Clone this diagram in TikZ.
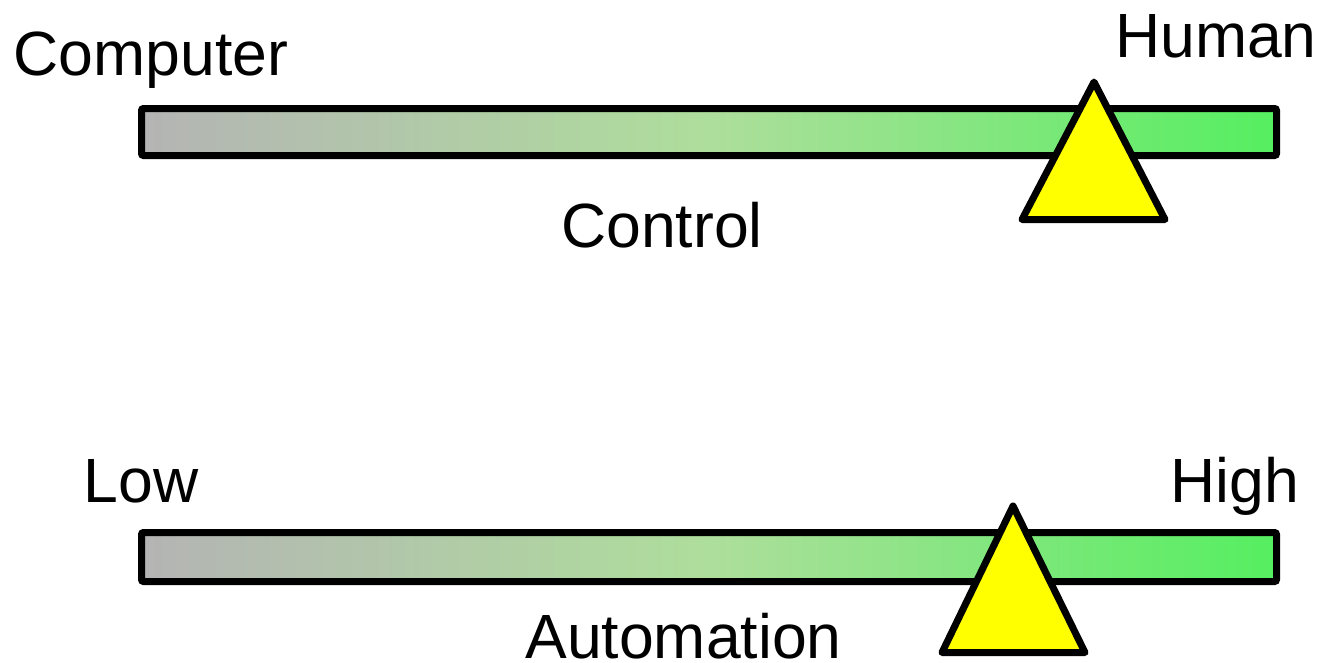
\documentclass[tikz,border=0pt]{standalone}
\usepackage{fontspec}
\setmainfont{Liberation Sans}
\definecolor{barleft}{HTML}{B4B4B4}
\definecolor{barmid}{HTML}{AEDE9C}
\definecolor{barright}{HTML}{55EF60}
\definecolor{tri}{HTML}{FFFF00}
\begin{document}
\begin{tikzpicture}[x=1pt,y=-1pt,
  fulcrum/.style={draw=black,fill=tri,line width=7pt,line join=round},
  lbl/.style={inner sep=0pt,anchor=base,font=\fontsize{62.5}{70}\selectfont}]
\tikzset{barshade/.style={draw=black,line width=7pt,rounded corners=2pt,left color=barleft,right color=barright,middle color=barmid}}
\useasboundingbox (0,0) rectangle (1322,662);
% top scale
\shade[barshade] (141.5,108.5) rectangle (1276.5,155.5);
\draw[fulcrum] (1094,82) -- (1022,219.5) -- (1165,219.5) -- cycle;
\node[lbl] (computer) at (151,75) {Computer};
\node[lbl] (human) at (1216,57) {Human};
\node[lbl] (control) at (662,247) {Control};
% bottom scale
\shade[barshade] (141.5,532.5) rectangle (1276.5,581.5);
\draw[fulcrum] (1013,506) -- (942,652.5) -- (1085,652.5) -- cycle;
\node[lbl] (low) at (141,502) {Low};
\node[lbl] (high) at (1235,502) {High};
\node[lbl] (automation) at (683.5,658) {Automation};
\end{tikzpicture}
\end{document}
